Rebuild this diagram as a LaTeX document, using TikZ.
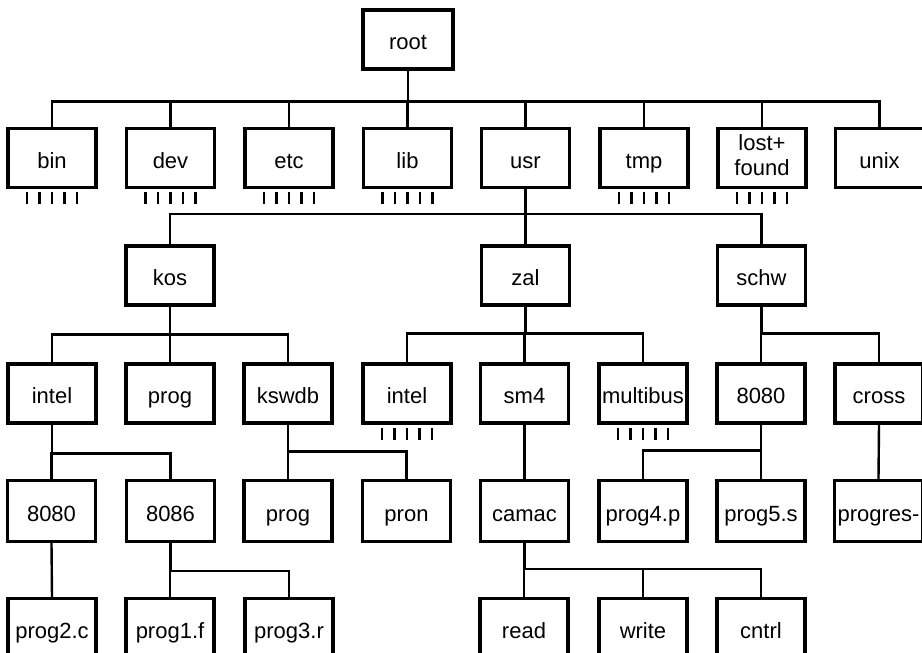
\documentclass[tikz,border=0pt]{standalone}
\usepackage{fontspec}
\setmainfont{Liberation Sans}
\newcommand\drawpins[1]{%
  \foreach \d in {-25,-12.5,0,12.5,25}{\draw[pinline] ([xshift=\d pt]#1.south) ++(0,3) -- ++(0,12);}}
\begin{document}
\begin{tikzpicture}[x=1pt,y=-1pt,
  box/.style={draw,line width=3.2pt,minimum width=88pt,minimum height=59pt,inner sep=0pt,
    font=\fontsize{22}{25}\selectfont,text height=20pt,text depth=0pt},
  conn/.style={line width=2.4pt},
  pinline/.style={line width=2.8pt}]
\useasboundingbox (0,0) rectangle (922,653);
\clip (0,0) rectangle (922,653);
% root
\node[box,minimum width=90pt] (root) at (408,39.5) {root};
% row 1
\node[box] (bin) at (52,158) {bin};
\node[box] (dev) at (170.5,158) {dev};
\node[box] (etc) at (289,158) {etc};
\node[box] (lib) at (407.5,158) {lib};
\node[box] (usr) at (525.5,158) {usr};
\node[box] (tmp) at (644,158) {tmp};
\node[box,text height=34pt] (lostfound) at (762,158)
  {\begin{tabular}[b]{@{}c@{}}lost+\\found\end{tabular}};
\node[box] (unix) at (879.5,158) {unix};
% row 2
\node[box] (kos) at (170,275.5) {kos};
\node[box] (zal) at (525.5,275.5) {zal};
\node[box] (schw) at (761.5,275.5) {schw};
% row 3
\node[box] (intelA) at (52,393.5) {intel};
\node[box] (progA) at (170,393.5) {prog};
\node[box] (kswdb) at (288,393.5) {kswdb};
\node[box] (intelB) at (407,393.5) {intel};
\node[box] (sm4) at (524.5,393.5) {sm4};
\node[box] (multibus) at (643,393.5) {multibus};
\node[box] (e8080) at (761,393.5) {8080};
\node[box] (cross) at (879,393.5) {cross};
% row 4
\node[box,minimum height=61pt] (a8080) at (51.5,511) {8080};
\node[box,minimum height=61pt] (a8086) at (170.5,511) {8086};
\node[box,minimum height=61pt] (progB) at (288,511) {prog};
\node[box,minimum height=61pt] (pron) at (406.5,511) {pron};
\node[box,minimum height=61pt] (camac) at (524.5,511) {camac};
\node[box,minimum height=61pt] (prog4) at (643,511) {prog4.p};
\node[box,minimum height=61pt] (prog5) at (761,511) {prog5.s};
\node[box,minimum height=61pt] (progres) at (878.5,511) {progres-};
% row 5
\node[box] (prog2) at (52,628) {prog2.c};
\node[box] (prog1) at (170,628) {prog1.f};
\node[box] (prog3) at (289,628) {prog3.r};
\node[box] (read) at (524,628) {read};
\node[box] (write) at (643,628) {write};
\node[box] (cntrl) at (761,628) {cntrl};
% connectors
\foreach \c in {bin,dev,etc,lib,usr,tmp,lostfound,unix}
  \draw[conn] (root.south) -- ++(0,31) -| (\c.north);
\foreach \c in {kos,zal,schw}
  \draw[conn] (usr.south) -- ++(0,25) -| (\c.north);
\foreach \c in {intelA,progA,kswdb}
  \draw[conn] (kos.south) -- ++(0,28) -| (\c.north);
\foreach \c in {intelB,sm4,multibus}
  \draw[conn] (zal.south) -- ++(0,27) -| (\c.north);
\foreach \c in {e8080,cross}
  \draw[conn] (schw.south) -- ++(0,27) -| (\c.north);
\foreach \c in {a8080,a8086}
  \draw[conn] (intelA.south) -- ++(0,29) -| (\c.north);
\foreach \c in {progB,pron}
  \draw[conn] (kswdb.south) -- ++(0,27) -| (\c.north);
\foreach \c in {prog4,prog5}
  \draw[conn] (e8080.south) -- ++(0,26) -| (\c.north);
\draw[conn] (sm4.south) -- (camac.north);
\draw[conn] (cross.south) -- (progres.north);
\draw[conn] (a8080.south) -- (prog2.north);
\foreach \c in {prog1,prog3}
  \draw[conn] (a8086.south) -- ++(0,28) -| (\c.north);
\foreach \c in {read,write,cntrl}
  \draw[conn] (camac.south) -- ++(0,26) -| (\c.north);
% pins
\drawpins{bin}
\drawpins{dev}
\drawpins{etc}
\drawpins{lib}
\drawpins{tmp}
\drawpins{lostfound}
\drawpins{intelB}
\drawpins{multibus}
\end{tikzpicture}
\end{document}
